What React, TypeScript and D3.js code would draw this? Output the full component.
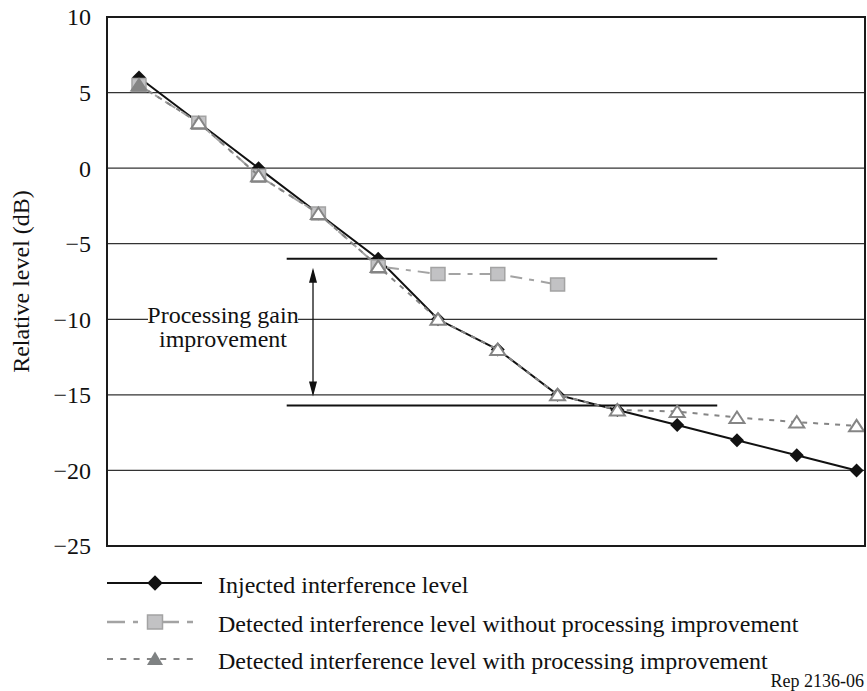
import React from 'react';
import * as d3 from 'd3';

// measurement points (no x labels in the original)
const pointIndex = [1, 2, 3, 4, 5, 6, 7, 8, 9, 10, 11, 12, 13];
const injected = [6, 3, 0, -3, -6, -10, -12, -15, -16, -17, -18, -19, -20];
const withoutImprovement = [5.5, 3, -0.5, -3, -6.5, -7, -7, -7.7];
const withImprovement = [5.5, 3, -0.5, -3, -6.5, -10, -12, -15, -16, -16.1, -16.5, -16.8, -17.05];

const yTicks = [10, 5, 0, -5, -10, -15, -20, -25];
const gridLevels = [5, 0, -5, -10, -15, -20];

// processing gain annotation (dB levels and point span)
const gainLevels = [-6, -15.7];
const gainSpan = [3.47, 10.67];
const gainArrowAt = 3.91;

const legendLabels = [
  'Injected interference level',
  'Detected interference level without processing improvement',
  'Detected interference level with processing improvement',
];

const W = 867;
const H = 691;
const margin = { top: 17, right: 2, bottom: 145, left: 107 };
const FONT = "'Liberation Serif', 'Times New Roman', serif";
const FS = 24;

const fmt = (v: number) => (v < 0 ? '\u2212' + Math.abs(v) : String(v));

const App = () => {
  const x = d3.scaleLinear().domain([0.465, 13.141]).range([margin.left, W - margin.right]);
  const y = d3.scaleLinear().domain([-25, 10]).range([H - margin.bottom, margin.top]);

  const line = d3.line<number>()
    .x((d, i) => x(pointIndex[i]))
    .y(d => y(d));

  const diamond = d3.symbol(d3.symbolSquare, 98)();
  const square = 'M-7,-6.5H7V6.5H-7Z';
  const tri = 'M0,-6L7.5,5.5H-7.5Z';
  const bigTri = 'M0,-7.5L8,6H-8Z';

  const gray1 = '#a3a3a3';
  const gray2 = '#858585';

  const legendY = [583, 622, 659];
  const txt = { fontFamily: FONT, fontSize: FS, fill: '#111' };
  // dash-dot legend sample, drawn as pieces like the original
  const dashDot = [[107, 125], [133, 138], [162, 179], [187, 193]];

  return (
    <svg width={W} height={H} style={{ position: 'absolute', left: 0, top: 0, background: '#fff' }}>
      {/* grid */}
      {gridLevels.map(v => (
        <line key={v} x1={x.range()[0]} x2={x.range()[1]} y1={y(v)} y2={y(v)} stroke="#333" strokeWidth={1.3} />
      ))}

      {/* annotation label */}
      <rect x={148} y={304} width={150} height={50} fill="#fff" />
      <text x={223} y={323} textAnchor="middle" style={txt}>Processing gain</text>
      <text x={223} y={347} textAnchor="middle" style={txt}>improvement</text>

      {/* gain lines and arrow */}
      {gainLevels.map(v => (
        <line key={v} x1={x(gainSpan[0])} x2={x(gainSpan[1])} y1={y(v)} y2={y(v)} stroke="#111" strokeWidth={2} />
      ))}
      <line x1={x(gainArrowAt)} x2={x(gainArrowAt)} y1={y(gainLevels[0]) + 12} y2={y(gainLevels[1]) - 12} stroke="#111" strokeWidth={1.3} />
      <path d={`M${x(gainArrowAt)},${y(gainLevels[0]) + 9}l-4,15h8z`} fill="#111" />
      <path d={`M${x(gainArrowAt)},${y(gainLevels[1]) - 9}l-4,-15h8z`} fill="#111" />

      {/* injected */}
      <path d={line(injected) || ''} fill="none" stroke="#111" strokeWidth={2} />
      {injected.map((v, i) => (
        <path key={i} d={diamond} transform={`translate(${x(pointIndex[i])},${y(v)}) rotate(45)`} fill="#111" />
      ))}

      {/* without improvement */}
      <path d={line(withoutImprovement) || ''} fill="none" stroke={gray1} strokeWidth={2} strokeDasharray="12,7,5,7" />
      {withoutImprovement.map((v, i) => (
        <path key={i} d={square} transform={`translate(${x(pointIndex[i])},${y(v)})`} fill="#c2c2c4" stroke={gray1} strokeWidth={1.5} />
      ))}

      {/* with improvement */}
      <path d={line(withImprovement) || ''} fill="none" stroke={gray2} strokeWidth={2} strokeDasharray="5,6" />
      {withImprovement.map((v, i) => (
        <path key={i} d={tri} transform={`translate(${x(pointIndex[i])},${y(v)})`}
          fill={i === 0 ? gray2 : '#fff'} stroke={gray2} strokeWidth={2} />
      ))}

      {/* frame */}
      <rect x={margin.left} y={margin.top} width={W - margin.left - margin.right} height={H - margin.top - margin.bottom}
        fill="none" stroke="#1a1a1a" strokeWidth={2} />

      {/* y axis */}
      {yTicks.map(v => (
        <text key={v} x={91} y={y(v)} dy="0.35em" textAnchor="end" style={txt}>{fmt(v)}</text>
      ))}
      <text transform={`translate(29,${(y(10) + y(-25)) / 2}) rotate(-90)`} textAnchor="middle" style={txt}>
        Relative level (dB)
      </text>

      {/* legend */}
      <g>
        <line x1={107} x2={202} y1={legendY[0]} y2={legendY[0]} stroke="#111" strokeWidth={2} />
        <path d={d3.symbol(d3.symbolSquare, 120)() || ''} transform={`translate(155,${legendY[0]}) rotate(45)`} fill="#111" />

        {dashDot.map(([a, b]) => (
          <line key={a} x1={a} x2={b} y1={legendY[1]} y2={legendY[1]} stroke={gray1} strokeWidth={2.5} />
        ))}
        <path d="M-7.5,-7H7.5V7H-7.5Z" transform={`translate(155,${legendY[1]})`} fill="#c2c2c4" stroke={gray1} strokeWidth={1.5} />

        <line x1={107} x2={198} y1={legendY[2]} y2={legendY[2]} stroke={gray2} strokeWidth={2} strokeDasharray="6,7.3" />
        <path d={bigTri} transform={`translate(155,${legendY[2]})`} fill="#7f8283" />

        {legendLabels.map((t, i) => (
          <text key={t} x={218} y={legendY[i] + 10} style={txt}>{t}</text>
        ))}
      </g>

      <text x={864} y={687} textAnchor="end" style={{ ...txt, fontSize: 18 }}>Rep 2136-06</text>
    </svg>
  );
};

export default App;
